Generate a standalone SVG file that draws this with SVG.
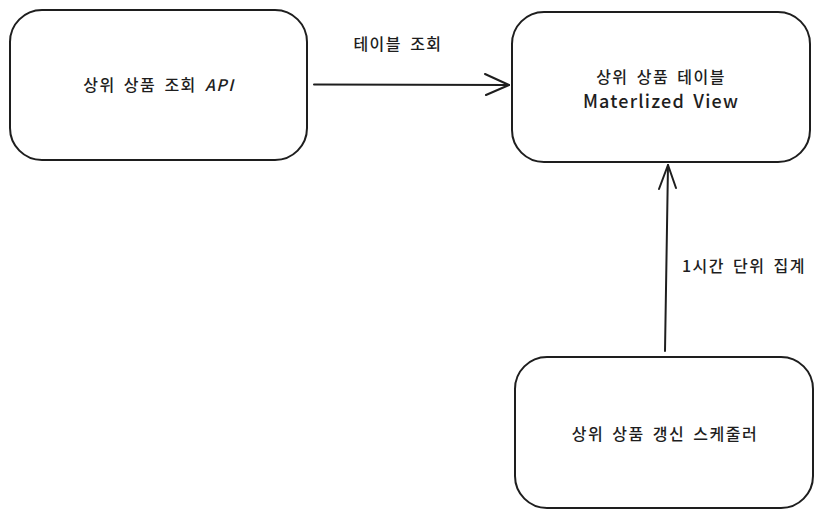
<svg xmlns="http://www.w3.org/2000/svg" width="834" height="517" viewBox="0 0 834 517">
<defs>
<style>
.box{fill:#ffffff;stroke:#1e1e1e;stroke-width:2;}
.t{font-family:"Noto Sans CJK KR","Noto Sans",sans-serif;font-size:16px;font-weight:500;letter-spacing:1.5px;word-spacing:3px;fill:#1e1e1e;text-anchor:middle;dominant-baseline:central;}
.c{fill:none;stroke:#1e1e1e;stroke-width:2;stroke-linecap:round;stroke-linejoin:round;}
</style>
</defs>
<rect width="834" height="517" fill="#ffffff"/>
<g id="node-api">
<rect class="box" x="10" y="10" width="297" height="150" rx="32" ry="32"/>
<text class="t" x="159" y="84">상위 상품 조회 <tspan font-style="italic">API</tspan></text>
</g>
<g id="node-mv">
<rect class="box" x="512" y="12" width="298" height="150" rx="32" ry="32"/>
<text class="t" x="661" y="76">상위 상품 테이블</text>
<text class="t" x="661" y="100" style="font-size:18px;letter-spacing:1.2px">Materlized View</text>
</g>
<g id="node-scheduler">
<rect class="box" x="515" y="357" width="298" height="151" rx="32" ry="32"/>
<text class="t" x="665" y="433">상위 상품 갱신 스케줄러</text>
</g>
<g id="connectors">
<path class="c" d="M314 84.5 L509 85"/>
<path class="c" d="M485 74 L509 85 L486 95"/>
<text class="t" x="398" y="43">테이블 조회</text>
<path class="c" d="M665 351 L668 165"/>
<path class="c" d="M659 189 L668 165 L676 188"/>
<text class="t" x="744" y="265">1시간 단위 집계</text>
</g>
</svg>
